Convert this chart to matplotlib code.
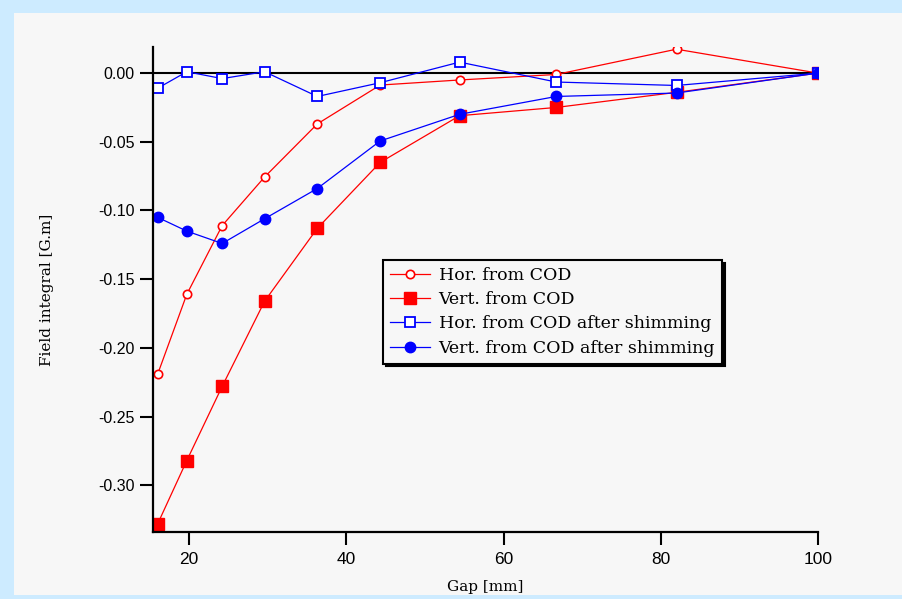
import matplotlib.pyplot as plt
from matplotlib.patches import Rectangle

# gap positions [mm], shared by all four series
gap = [16.0, 19.7, 24.2, 29.6, 36.3, 44.3, 54.4, 66.7, 82.0, 100.0]

hor_cod = [-0.219, -0.161, -0.111, -0.0756, -0.037, -0.0087, -0.005, -0.001, 0.0174, 0.0]
vert_cod = [-0.328, -0.282, -0.228, -0.166, -0.113, -0.065, -0.031, -0.025, -0.014, 0.0]
hor_shim = [-0.011, 0.001, -0.004, 0.001, -0.017, -0.007, 0.008, -0.0065, -0.009, 0.0]
vert_shim = [-0.105, -0.115, -0.124, -0.106, -0.084, -0.0494, -0.030, -0.017, -0.0145, 0.0]

y_ticks = [0.0, -0.05, -0.10, -0.15, -0.20, -0.25, -0.30]
y_tick_labels = ["0.00", "-0.05", "-0.10", "-0.15", "-0.20", "-0.25", "-0.30"]
x_ticks = [20, 40, 60, 80, 100]


def main():
    fig = plt.figure(figsize=(9.03, 5.99), dpi=100)
    fig.patch.set_facecolor("#cdebff")
    panel = Rectangle((14 / 903, 0.006), 1.0, 1 - 13 / 599 - 0.006,
                      transform=fig.transFigure, facecolor="#f7f7f7",
                      edgecolor="none", zorder=-10)
    fig.add_artist(panel)

    ax = fig.add_axes([153 / 903, 67 / 599, 665 / 903, 485 / 599])
    ax.set_facecolor("none")

    ax.axhline(0, color="black", lw=1.5, zorder=1.5)

    ax.plot(gap, hor_cod, color="red", lw=0.9, marker="o", ms=6,
            mfc="white", mec="red", mew=1.2, label="Hor. from COD")
    ax.plot(gap, vert_cod, color="red", lw=0.9, marker="s", ms=8,
            mfc="red", mec="red", label="Vert. from COD")
    ax.plot(gap, hor_shim, color="blue", lw=0.9, marker="s", ms=6.5,
            mfc="white", mec="blue", mew=1.3, label="Hor. from COD after shimming")
    ax.plot(gap, vert_shim, color="blue", lw=0.9, marker="o", ms=7.5,
            mfc="blue", mec="blue", label="Vert. from COD after shimming")

    ax.set_xlim(15.4, 100)
    ax.set_ylim(-0.334, 0.019)

    for side in ["top", "right"]:
        ax.spines[side].set_visible(False)
    for side in ["left", "bottom"]:
        ax.spines[side].set_linewidth(1.6)

    ax.set_yticks(y_ticks, y_tick_labels)
    ax.set_xticks(x_ticks)
    ax.tick_params(axis="both", direction="out", length=9.5, width=1.5,
                   labelsize=11.5)
    ax.tick_params(axis="x", pad=5, labelsize=12.5)
    for lab in ax.get_xticklabels() + ax.get_yticklabels():
        lab.set_family("Liberation Sans")

    ax.set_xlabel("Gap [mm]", family="DejaVu Serif", fontsize=11, labelpad=9)
    ax.set_ylabel("Field integral [G.m]", family="DejaVu Serif", fontsize=11,
                  labelpad=32)

    leg = ax.legend(loc="upper left", bbox_to_anchor=(0.346, 0.561),
                    borderaxespad=0, frameon=True, fancybox=False,
                    shadow={"color": "black", "alpha": 1},
                    prop={"family": "DejaVu Serif", "size": 12.5},
                    handlelength=2.3, handletextpad=0.5, labelspacing=0.42,
                    borderpad=0.4)
    leg.get_frame().set_edgecolor("black")
    leg.get_frame().set_linewidth(1.5)
    leg.get_frame().set_facecolor("#f7f7f7")
    leg.get_frame().set_alpha(1)

    fig.savefig("out.png", dpi=100, facecolor=fig.get_facecolor())


if __name__ == "__main__":
    main()
